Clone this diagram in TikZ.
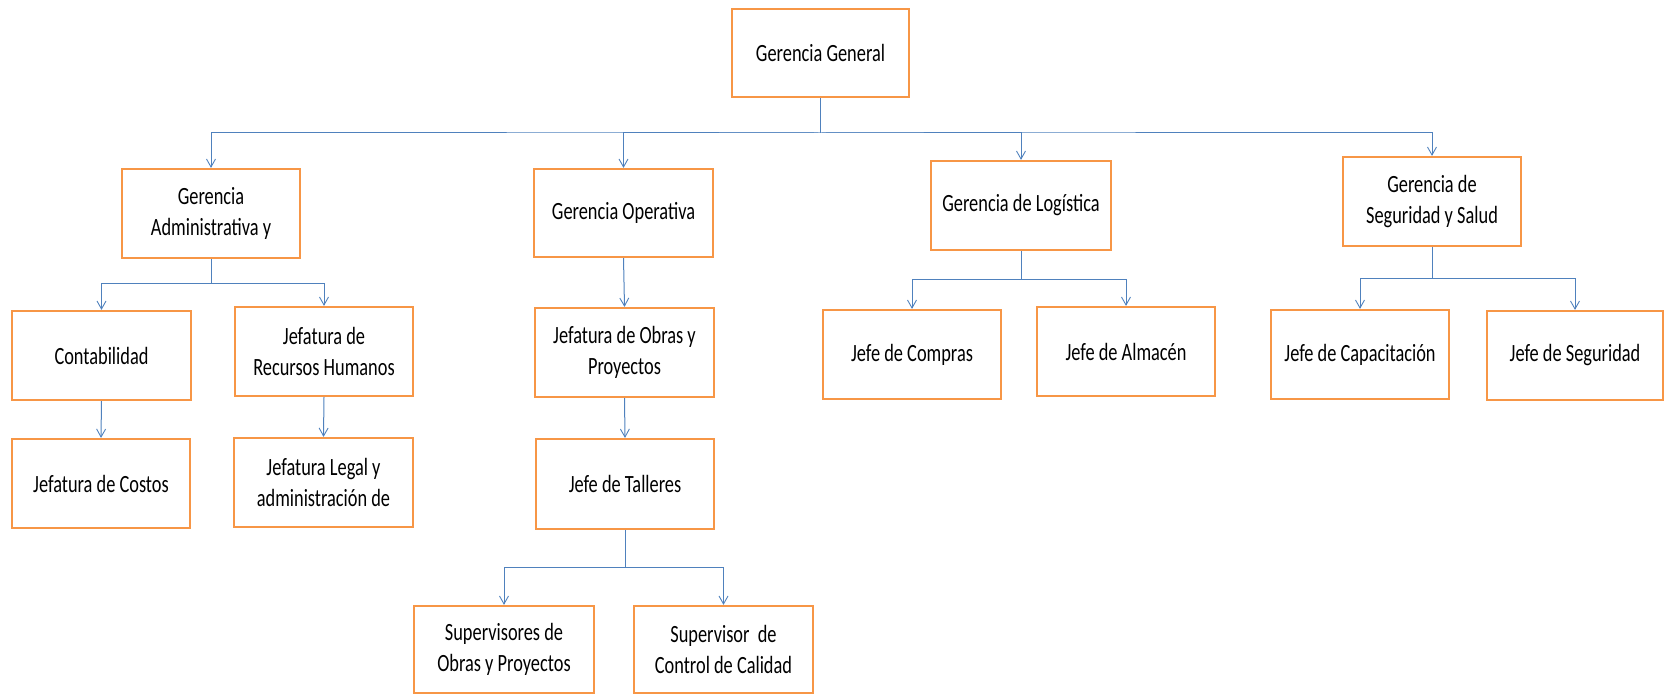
\documentclass[tikz,border=0pt]{standalone}
\usepackage{fontspec}
\setmainfont{Carlito}[FakeStretch=0.74]
\usetikzlibrary{arrows.meta}
\definecolor{boxorange}{RGB}{247,150,70}
\definecolor{linkblue}{RGB}{79,129,189}
\tikzset{
  unitbox/.style={draw=boxorange, line width=2.2pt, fill=white,
    minimum width=178pt, minimum height=89pt, inner sep=2pt, align=center,
    font=\fontsize{24.8}{31}\selectfont},
  link/.style={draw=linkblue, line width=1pt,
    -{Straight Barb[length=8pt,width=9pt,line width=0.9pt]}},
}
\begin{document}
\begin{tikzpicture}[x=1pt,y=-1pt]
\useasboundingbox (0,0) rectangle (1665,695);

% top level
\node[unitbox, minimum width=177pt, minimum height=88pt] (gg) at (820.5,53) {Gerencia General};

% management level
\node[unitbox] (gadm) at (211,213.5) {Gerencia\\Administrativa y};
\node[unitbox, minimum width=179pt, minimum height=88pt] (gop) at (623.5,213) {Gerencia Operativa};
\node[unitbox, minimum width=180pt] (glog) at (1021,205.5) {Gerencia de Logística};
\node[unitbox] (gseg) at (1432,201.5) {Gerencia de\\Seguridad y Salud};

% administration branch
\node[unitbox, minimum width=179pt] (cont) at (101.5,355.5) {Contabilidad};
\node[unitbox] (rrhh) at (324,351.5) {Jefatura de\\Recursos Humanos};
\node[unitbox] (costos) at (101,483.5) {Jefatura de Costos};
\node[unitbox, minimum width=179pt] (legal) at (323.5,482.5) {Jefatura Legal y\\administración de};

% operations branch
\node[unitbox, minimum width=179pt] (obras) at (624.5,352.5) {Jefatura de Obras y\\Proyectos};
\node[unitbox, minimum height=90pt] (talleres) at (625,484) {Jefe de Talleres};
\node[unitbox, minimum width=180pt, minimum height=87pt] (supobras) at (504,649.5) {Supervisores de\\Obras y Proyectos};
\node[unitbox, minimum width=179pt, minimum height=87pt] (supcal) at (723.5,649.5) {Supervisor~~de\\Control de Calidad};

% logistics branch
\node[unitbox] (compras) at (912,354.5) {Jefe de Compras};
\node[unitbox] (almacen) at (1126,351.5) {Jefe de Almacén};

% safety branch
\node[unitbox] (capac) at (1360,354.5) {Jefe de Capacitación};
\node[unitbox, minimum width=176pt] (seg) at (1575,355.5) {Jefe de Seguridad};

% connectors
\foreach \c in {gadm,gop,glog,gseg}
  \draw[link] (gg.south) |- (820,133) -| (\c.north);

\foreach \c in {cont,rrhh}
  \draw[link] (gadm.south) |- (211,283) -| (\c.north);
\draw[link] (cont.south) -- (costos.north);
\draw[link] (rrhh.south) -- (legal.north);

\draw[link] (gop.south) -- (obras.north);
\draw[link] (obras.south) -- (talleres.north);
\foreach \c in {supobras,supcal}
  \draw[link] (talleres.south) |- (625,567) -| (\c.north);

\foreach \c in {compras,almacen}
  \draw[link] (glog.south) |- (1021,279) -| (\c.north);

\foreach \c in {capac,seg}
  \draw[link] (gseg.south) |- (1432,278) -| (\c.north);
\end{tikzpicture}
\end{document}
